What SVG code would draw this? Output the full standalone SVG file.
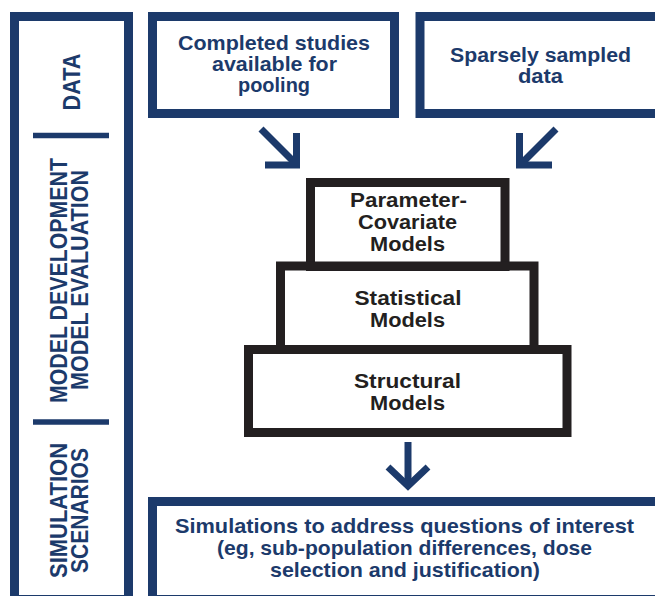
<svg xmlns="http://www.w3.org/2000/svg" width="655" height="596" viewBox="0 0 655 596">
<style>
.nv{fill:none;stroke:#1c3a6b;stroke-width:9}
.dk{fill:none;stroke:#231f20;stroke-width:9}
.ar{fill:none;stroke:#1c3a6b;stroke-width:7;stroke-linejoin:miter;stroke-miterlimit:10}
.t{font-family:"Liberation Sans",Arial,sans-serif;font-weight:bold;font-size:20px;text-anchor:middle}
.tn{fill:#1c3a6b;font-size:21px}
.td{fill:#231f20}
.v{font-family:"Liberation Sans",Arial,sans-serif;font-weight:bold;font-size:24px;text-anchor:middle;fill:#1c3a6b}
</style>
<rect width="655" height="596" fill="#ffffff"/>
<g id="sidebar">
<rect class="nv" x="14.5" y="16.5" width="114" height="583"/>
<line x1="33" y1="135.5" x2="109" y2="135.5" stroke="#1c3a6b" stroke-width="5.5"/>
<line x1="33" y1="422" x2="109" y2="422" stroke="#1c3a6b" stroke-width="5.5"/>
<text class="v" transform="translate(80,82) rotate(-90)" textLength="57" lengthAdjust="spacingAndGlyphs">DATA</text>
<text class="v" transform="translate(67,280.5) rotate(-90)" textLength="245" lengthAdjust="spacingAndGlyphs">MODEL DEVELOPMENT</text>
<text class="v" transform="translate(88,280) rotate(-90)" textLength="220" lengthAdjust="spacingAndGlyphs">MODEL EVALUATION</text>
<text class="v" transform="translate(67,510.5) rotate(-90)" textLength="135" lengthAdjust="spacingAndGlyphs">SIMULATION</text>
<text class="v" transform="translate(88,510.5) rotate(-90)" textLength="125" lengthAdjust="spacingAndGlyphs">SCENARIOS</text>
</g>
<g id="completed-studies">
<rect class="nv" x="152.5" y="16.5" width="242" height="97"/>
<text class="t tn" x="274" y="50" textLength="192" lengthAdjust="spacingAndGlyphs">Completed studies</text>
<text class="t tn" x="274.5" y="71" textLength="125" lengthAdjust="spacingAndGlyphs">available for</text>
<text class="t tn" x="274" y="92" textLength="72" lengthAdjust="spacingAndGlyphs">pooling</text>
</g>
<g id="sparse-data">
<rect class="nv" x="420" y="16.5" width="250" height="97"/>
<text class="t tn" x="540.5" y="62" textLength="181" lengthAdjust="spacingAndGlyphs" style="font-size:20px">Sparsely sampled</text>
<text class="t tn" x="540.5" y="83" textLength="45" lengthAdjust="spacingAndGlyphs" style="font-size:20px">data</text>
</g>
<g id="parameter-covariate">
<rect class="dk" x="310.5" y="182.5" width="194.5" height="84"/>
<text class="t td" x="408.5" y="207" textLength="117" lengthAdjust="spacingAndGlyphs">Parameter-</text>
<text class="t td" x="407.5" y="229" textLength="99" lengthAdjust="spacingAndGlyphs">Covariate</text>
<text class="t td" x="407.5" y="251" textLength="75" lengthAdjust="spacingAndGlyphs">Models</text>
</g>
<g id="statistical">
<rect class="dk" x="280.5" y="266" width="253.5" height="83.5"/>
<text class="t td" x="408" y="305" textLength="107" lengthAdjust="spacingAndGlyphs">Statistical</text>
<text class="t td" x="407.5" y="327" textLength="75" lengthAdjust="spacingAndGlyphs">Models</text>
</g>
<g id="structural">
<rect class="dk" x="248.5" y="349.5" width="318.5" height="83"/>
<text class="t td" x="407.5" y="388" textLength="107" lengthAdjust="spacingAndGlyphs">Structural</text>
<text class="t td" x="407.5" y="410" textLength="75" lengthAdjust="spacingAndGlyphs">Models</text>
</g>
<g id="simulations">
<rect class="nv" x="152.5" y="501.5" width="520" height="98"/>
<text class="t tn" x="404.5" y="533" textLength="459" lengthAdjust="spacingAndGlyphs">Simulations to address questions of interest</text>
<text class="t tn" x="404.5" y="555" textLength="375" lengthAdjust="spacingAndGlyphs">(eg, sub-population differences, dose</text>
<text class="t tn" x="405" y="577" textLength="270" lengthAdjust="spacingAndGlyphs">selection and justification)</text>
</g>
<g id="connectors">
<line class="ar" x1="261" y1="129" x2="294" y2="162"/>
<path class="ar" d="M265,165 L296.5,165 L296.5,133"/>
<line class="ar" x1="556" y1="129" x2="523" y2="162"/>
<path class="ar" d="M552,165 L519.5,165 L519.5,133"/>
<line class="ar" x1="408" y1="442" x2="408" y2="484"/>
<path class="ar" d="M388,467 L408,486 L428,467"/>
</g>
</svg>
